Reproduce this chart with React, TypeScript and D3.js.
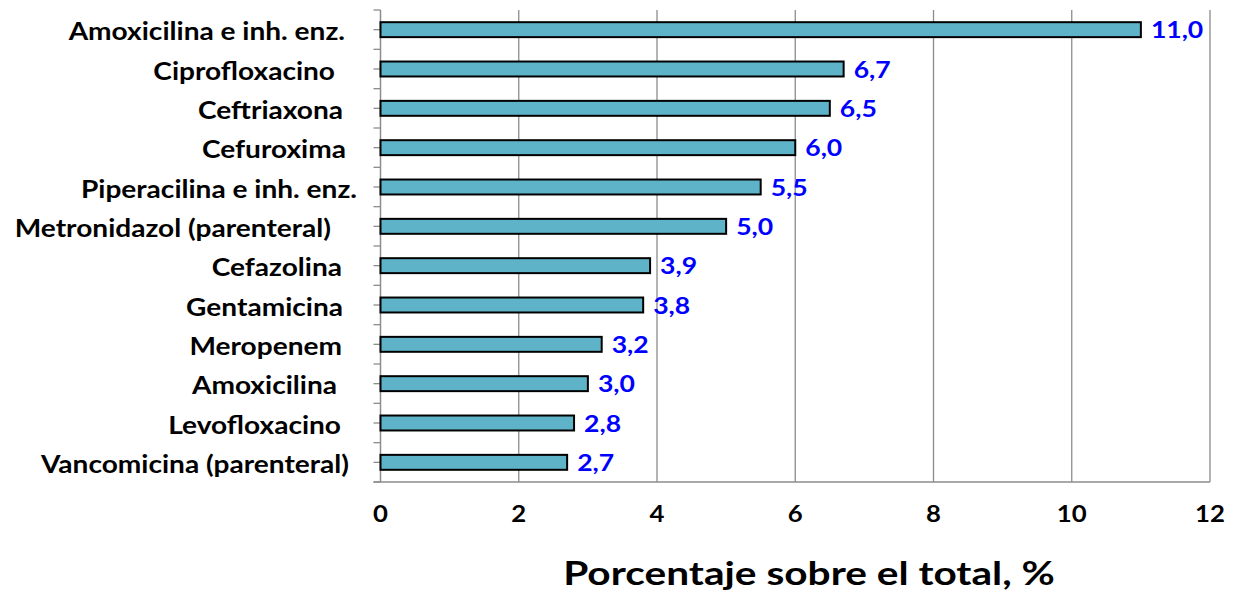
import React from "react";
import * as d3 from "d3";

const categories = [
  "Amoxicilina e inh. enz.",
  "Ciprofloxacino",
  "Ceftriaxona",
  "Cefuroxima",
  "Piperacilina e inh. enz.",
  "Metronidazol (parenteral)",
  "Cefazolina",
  "Gentamicina",
  "Meropenem",
  "Amoxicilina",
  "Levofloxacino",
  "Vancomicina (parenteral)",
];
const values = [11.0, 6.7, 6.5, 6.0, 5.5, 5.0, 3.9, 3.8, 3.2, 3.0, 2.8, 2.7];
// horizontal nudges for the category labels (trailing blanks in the source labels)
const labelShift = [-1, -11, -3, 0, 11, -15, -4, -3, -4, -9, -5, 3];
const xTicks = [0, 2, 4, 6, 8, 10, 12];
const axisTitle = "Porcentaje sobre el total, %";

const W = 1234;
const H = 595;
const left = 380.5;
const right = 1210;
const top = 10;
const bottom = 482;
const font = "Lato, 'Open Sans', sans-serif";

function Stretched(props: {
  x: number;
  y: number;
  sx: number;
  size: number;
  anchor?: string;
  fill?: string;
  children: React.ReactNode;
}) {
  const { x, y, sx, size, anchor = "start", fill = "#000", children } = props;
  return (
    <text
      transform={`translate(${x},${y}) scale(${sx},1)`}
      textAnchor={anchor}
      fontFamily={font}
      fontWeight={700}
      fontSize={size}
      fill={fill}
    >
      {children}
    </text>
  );
}

export default function App() {
  const x = d3.scaleLinear().domain([0, 12]).range([left, right]);
  const y = d3.scaleBand<string>().domain(categories).range([top, bottom]).paddingInner(0).paddingOuter(0);
  const bw = y.bandwidth();
  const barH = bw * 0.38;
  const halfTicks = d3.range(0, categories.length * 2 + 1).map((i) => top + (i * bw) / 2);

  return (
    <svg width={W} height={H} style={{ position: "absolute", left: 0, top: 0, background: "#fff" }}>
      {/* vertical gridlines */}
      {xTicks.slice(1).map((t) => (
        <line key={"g" + t} x1={x(t)} x2={x(t)} y1={top} y2={bottom} stroke="#8c8c8c" strokeWidth={1.3} />
      ))}
      {/* category axis */}
      <line x1={left} x2={left} y1={top} y2={bottom} stroke="#8c8c8c" strokeWidth={1.5} />
      {halfTicks.map((ty, i) => (
        <line key={"t" + i} x1={left - 7} x2={left} y1={ty} y2={ty} stroke="#8c8c8c" strokeWidth={1.3} />
      ))}
      {/* value axis */}
      <line x1={left - 7} x2={right} y1={bottom} y2={bottom} stroke="#8c8c8c" strokeWidth={1.5} />
      {/* bars, value labels and category labels */}
      {categories.map((c, i) => {
        const cy = (y(c) as number) + bw / 2;
        return (
          <g key={c}>
            <rect
              x={x(0)}
              y={cy - barH / 2}
              width={x(values[i]) - x(0)}
              height={barH}
              fill="#5eb3c9"
              stroke="#000"
              strokeWidth={2}
            />
            <Stretched x={x(values[i]) + 10} y={cy + 8.5} sx={1.18} size={22.5} fill="#0000ff">
              {d3.format(".1f")(values[i]).replace(".", ",")}
            </Stretched>
            <Stretched x={346 + labelShift[i]} y={cy + 10.5} sx={1.17} size={24} anchor="end">
              {c}
            </Stretched>
          </g>
        );
      })}
      {/* x tick labels */}
      {xTicks.map((t) => (
        <Stretched key={"xl" + t} x={x(t)} y={522} sx={1.12} size={23} anchor="middle">
          {t}
        </Stretched>
      ))}
      <Stretched x={809} y={585} sx={1.27} size={32} anchor="middle">
        {axisTitle}
      </Stretched>
    </svg>
  );
}
